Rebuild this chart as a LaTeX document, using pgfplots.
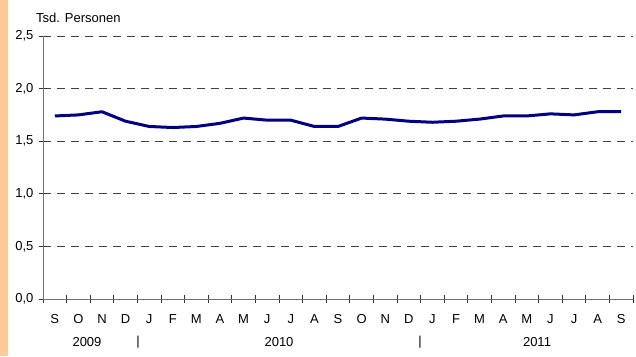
\documentclass[border=0pt]{standalone}
\usepackage{fontspec}
\setmainfont{Liberation Sans}
\usepackage{pgfplots}
\pgfplotsset{compat=1.18}
\definecolor{strip}{HTML}{FDCB98}
\definecolor{navyline}{HTML}{000080}
\begin{document}
\fontsize{13}{15}\selectfont
\begin{tikzpicture}[x=1pt,y=1pt]
\useasboundingbox (0,0) rectangle (636,-356);
\fill[white] (0,0) rectangle (636,-356);
\fill[strip] (0,0) rectangle (8,-356);
\begin{axis}[
  at={(43pt,-299pt)}, anchor=south west,
  scale only axis, width=590pt, height=263pt,
  xmin=-0.5, xmax=24.5, ymin=0, ymax=2.5,
  axis x line=bottom, axis y line=left,
  axis line style={-, draw=gray!90!black, line width=1pt},
  xtick={-0.5,0.5,...,24.5}, xticklabels={},
  extra x ticks={0,1,...,24},
  extra x tick labels={S,O,N,D,J,F,M,A,M,J,J,A,S,O,N,D,J,F,M,A,M,J,J,A,S},
  extra x tick style={tick style={draw=none}, xticklabel style={anchor=center, yshift=-16pt}},
  ytick={0,0.5,...,2.5},
  tick align=center, major tick length=8pt,
  tick style={draw=black!80, line width=0.8pt},
  ymajorgrids,
  major grid style={draw=black!75, dash pattern=on 8pt off 6pt, line width=0.9pt},
  /pgf/number format/use comma,
  /pgf/number format/fixed,
  /pgf/number format/fixed zerofill,
  /pgf/number format/precision=1,
  /pgf/number format/assume math mode=true,
  yticklabel style={xshift=-1pt},
  tick label style={font=\fontsize{13}{15}\selectfont},
  clip=false,
]
\addplot[navyline, line width=3pt, line join=round] coordinates {
(0,1.74) (1,1.75) (2,1.78) (3,1.69) (4,1.64) (5,1.63) (6,1.64) (7,1.67) (8,1.72)
(9,1.70) (10,1.70) (11,1.64) (12,1.64) (13,1.72) (14,1.71) (15,1.69) (16,1.68)
(17,1.69) (18,1.71) (19,1.74) (20,1.74) (21,1.76) (22,1.75) (23,1.78) (24,1.78)
};
\end{axis}
\node[anchor=base west, inner sep=0pt] at (36,-22.5) {Tsd. Personen};
\node[anchor=center] at (87,-342) {2009};
\node[anchor=center] at (138,-342) {|};
\node[anchor=center] at (279,-342) {2010};
\node[anchor=center] at (420,-342) {|};
\node[anchor=center] at (537,-342) {2011};
\end{tikzpicture}
\end{document}
